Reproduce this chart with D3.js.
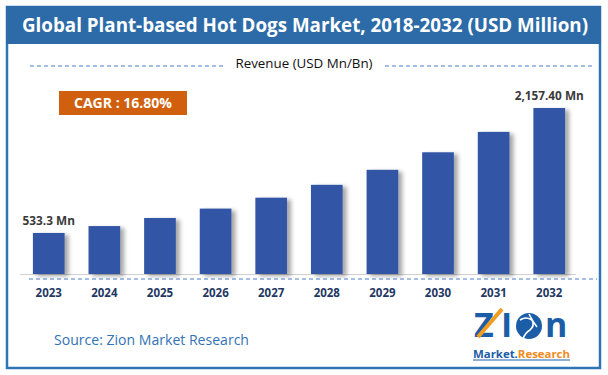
<!DOCTYPE html>
<html>
<head>
<meta charset="utf-8">
<script src="https://cdn.jsdelivr.net/npm/d3@7"></script>
<style>
  body { margin: 0; background: #fff; }
  text { font-family: "Open Sans", "Noto Sans", sans-serif; }
</style>
</head>
<body>
<div id="chart"></div>
<script>
// chart data
var years = ["2023", "2024", "2025", "2026", "2027", "2028", "2029", "2030", "2031", "2032"];
var revenue = [533.3, 623, 728, 850, 992, 1159, 1354, 1582, 1847, 2157.4];
var valueLabels = ["533.3 Mn", "", "", "", "", "", "", "", "", "2,157.40 Mn"];
var titleText = "Global Plant-based Hot Dogs Market, 2018-2032 (USD Million)";
var subtitleText = "Revenue (USD Mn/Bn)";
var cagrText = "CAGR : 16.80%";
var sourceText = "Source: Zion Market Research";

var W = 608, H = 375;

var svg = d3.select("#chart")
  .append("svg")
    .attr("width", W)
    .attr("height", H);

// bar shadow
var defs = svg.append("defs");
var f = defs.append("filter").attr("id", "shadow")
  .attr("x", "-20%").attr("y", "-10%").attr("width", "160%").attr("height", "130%");
f.append("feDropShadow")
  .attr("dx", 4).attr("dy", 2).attr("stdDeviation", 2.2)
  .attr("flood-color", "#000").attr("flood-opacity", 0.35);

// frame
svg.append("rect")
  .attr("x", 7).attr("y", 7).attr("width", 593).attr("height", 361)
  .attr("fill", "#fff").attr("stroke", "#2E75B6").attr("stroke-width", 2.5);

// title bar
svg.append("rect")
  .attr("x", 6).attr("y", 6).attr("width", 595).attr("height", 38)
  .attr("fill", "#2C6BA7");
svg.append("text")
  .attr("x", 305).attr("y", 32)
  .attr("text-anchor", "middle")
  .attr("fill", "#fff")
  .attr("font-size", 19).attr("font-weight", "bold")
  .attr("textLength", 566).attr("lengthAdjust", "spacingAndGlyphs")
  .text(titleText);

// subtitle with dashed rules
svg.append("text")
  .attr("x", 304).attr("y", 68)
  .attr("text-anchor", "middle")
  .attr("fill", "#111")
  .attr("font-size", 13)
  .attr("textLength", 137).attr("lengthAdjust", "spacingAndGlyphs")
  .text(subtitleText);
svg.append("line")
  .attr("x1", 30).attr("x2", 225).attr("y1", 66).attr("y2", 66)
  .attr("stroke", "#4A7FC8").attr("stroke-width", 1).attr("stroke-dasharray", "4,3");
svg.append("line")
  .attr("x1", 385).attr("x2", 595).attr("y1", 66).attr("y2", 66)
  .attr("stroke", "#4A7FC8").attr("stroke-width", 1).attr("stroke-dasharray", "4,3");

// CAGR box
svg.append("rect")
  .attr("x", 59).attr("y", 91).attr("width", 128).attr("height", 24)
  .attr("fill", "#D0600E");
svg.append("text")
  .attr("x", 123).attr("y", 108)
  .attr("text-anchor", "middle")
  .attr("fill", "#fff")
  .attr("font-size", 14).attr("font-weight", "bold")
  .attr("textLength", 98).attr("lengthAdjust", "spacingAndGlyphs")
  .text(cagrText);

// scales
var x = d3.scaleBand()
  .domain(years)
  .range([9, 589])
  .padding(0.43);

var y = d3.scaleLinear()
  .domain([0, d3.max(revenue)])
  .range([274, 108]);

// baseline + dashed rule
svg.append("line")
  .attr("x1", 20).attr("x2", 576).attr("y1", 274.5).attr("y2", 274.5)
  .attr("stroke", "#d0d0d0").attr("stroke-width", 1);
svg.append("line")
  .attr("x1", 29).attr("x2", 597).attr("y1", 279).attr("y2", 279)
  .attr("stroke", "#4A7FC8").attr("stroke-width", 1).attr("stroke-dasharray", "4,3");

// bars
svg.selectAll("rect.bar")
  .data(revenue)
  .enter()
  .append("rect")
    .attr("class", "bar")
    .attr("x", function(d, i) { return x(years[i]); })
    .attr("y", function(d) { return y(d); })
    .attr("width", x.bandwidth())
    .attr("height", function(d) { return y(0) - y(d); })
    .attr("fill", "#3256A5")
    .attr("filter", "url(#shadow)");

// value labels
svg.selectAll("text.val")
  .data(revenue)
  .enter()
  .append("text")
    .attr("class", "val")
    .attr("x", function(d, i) { return x(years[i]) + x.bandwidth() / 2; })
    .attr("y", function(d) { return y(d) - 8; })
    .attr("text-anchor", "middle")
    .attr("fill", "#3a3a3a")
    .attr("font-size", 11.8).attr("font-weight", "bold")
    .text(function(d, i) { return valueLabels[i]; });

// x axis labels
var xAxis = svg.append("g")
  .attr("transform", "translate(0,280)")
  .call(d3.axisBottom(x).tickSize(0).tickPadding(9));
xAxis.select(".domain").remove();
xAxis.selectAll("text")
  .attr("fill", "#1F3864")
  .attr("font-size", 11.5)
  .attr("font-weight", "bold")
  .style("font-family", "'Open Sans', sans-serif");

// source
svg.append("text")
  .attr("x", 54).attr("y", 345)
  .attr("fill", "#3273B5")
  .attr("font-size", 14)
  .attr("textLength", 195).attr("lengthAdjust", "spacingAndGlyphs")
  .text(sourceText);

// logo
var logo = svg.append("g").attr("transform", "translate(473,308)");
var big = logo.append("text")
  .attr("x", 0).attr("y", 29)
  .attr("font-size", 34).attr("font-weight", "bold")
  .attr("fill", "#1C5DA8");
big.append("tspan").attr("x", 1).text("Z");
big.append("tspan").attr("x", 28).text("I");
big.append("tspan").attr("x", 72).text("n");
logo.append("line")
  .attr("x1", 5).attr("y1", 29).attr("x2", 29).attr("y2", 1)
  .attr("stroke", "#F39C1F").attr("stroke-width", 4);
logo.append("circle")
  .attr("cx", 56).attr("cy", 18).attr("r", 13)
  .attr("fill", "#1C5DA8");
logo.append("path")
  .attr("d", "M47,12 q6,-4 12,0 q3,6 -2,10 q-5,3 -7,9 M56,6 q4,8 8,13")
  .attr("fill", "none").attr("stroke", "#fff").attr("stroke-width", 1.6);
var small = logo.append("text")
  .attr("x", 0).attr("y", 50)
  .attr("font-size", 10).attr("font-weight", "bold")
  .attr("textLength", 97).attr("lengthAdjust", "spacingAndGlyphs");
small.append("tspan").attr("fill", "#1C5DA8").text("Market.");
small.append("tspan").attr("fill", "#F08A1C").text("Research");
logo.append("line")
  .attr("x1", 0).attr("x2", 97).attr("y1", 52).attr("y2", 52)
  .attr("stroke", "#1C5DA8").attr("stroke-width", 1);
</script>
</body>
</html>
